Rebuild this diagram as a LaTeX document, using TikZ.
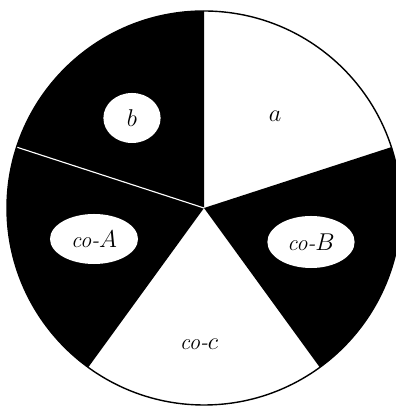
\documentclass[tikz,border=0pt]{standalone}
\usepackage{tikz}
\usetikzlibrary{shapes.geometric}

\begin{document}
\begin{tikzpicture}[
  x=0.025cm, y=0.025cm,
  blob/.style = {fill=white, ellipse, inner sep=0pt, font=\fontsize{16}{18}\selectfont\itshape},
  lbl/.style  = {font=\fontsize{16}{18}\selectfont\itshape},
]
  \useasboundingbox (0,0) rectangle (395,406);
  \coordinate (c) at (204,198);

  % black sectors
  \fill (c) -- ++(-54:197) arc[start angle=-54, end angle=18, radius=197] -- cycle;
  \fill (c) -- ++(90:197) arc[start angle=90, end angle=234, radius=197] -- cycle;
  \draw[white, line width=0.8pt] (c) -- ++(162:197);
  \draw[line width=1pt] (c) circle[radius=197];

  \node[blob, minimum width=1.43cm, minimum height=1.25cm] (b)   at (132,288) {$b$};
  \node[blob, minimum width=2.2cm,  minimum height=1.25cm] (coA) at (94,167)  {co-$A$};
  \node[blob, minimum width=2.18cm, minimum height=1.3cm]  (coB) at (311,164) {co-$B$};
  \node[lbl] (a)   at (275,290) {$a$};
  \node[lbl] (coc) at (199,62)  {co-$c$};
\end{tikzpicture}
\end{document}
